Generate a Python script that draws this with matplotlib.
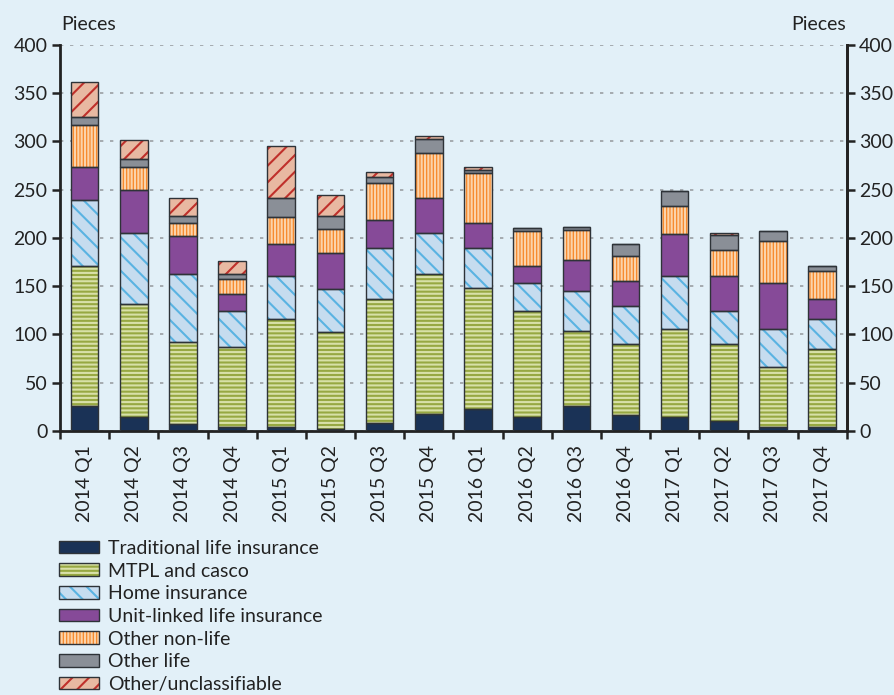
import matplotlib
matplotlib.use("Agg")
import matplotlib.pyplot as plt
from matplotlib.patches import Patch
from matplotlib.ticker import MultipleLocator, FixedLocator
from matplotlib.legend_handler import HandlerTuple
import numpy as np

plt.rcParams['font.family'] = ['Lato', 'DejaVu Sans']
plt.rcParams['hatch.linewidth'] = 1.5

categories = ["2014 Q1", "2014 Q2", "2014 Q3", "2014 Q4",
              "2015 Q1", "2015 Q2", "2015 Q3", "2015 Q4",
              "2016 Q1", "2016 Q2", "2016 Q3", "2016 Q4",
              "2017 Q1", "2017 Q2", "2017 Q3", "2017 Q4"]

traditional_life = [26, 15, 7, 4, 4, 2, 8, 18, 23, 15, 26, 17, 15, 10, 4, 4]
mtpl_casco       = [145, 117, 85, 83, 112, 101, 129, 145, 125, 109, 78, 73, 91, 80, 62, 81]
home_insurance   = [68, 73, 71, 37, 44, 44, 52, 42, 41, 29, 41, 39, 54, 34, 40, 31]
unit_linked      = [34, 45, 39, 18, 34, 37, 29, 36, 26, 18, 32, 26, 44, 36, 47, 21]
other_non_life   = [44, 23, 13, 15, 28, 25, 39, 47, 52, 36, 31, 26, 29, 27, 44, 29]
other_life       = [8, 9, 8, 6, 19, 14, 6, 14, 3, 3, 3, 13, 16, 16, 10, 5]
other_unclass    = [36, 19, 18, 13, 54, 21, 5, 3, 3, 0, 0, 0, 0, 2, 0, 0]

series_labels = ["Traditional life insurance", "MTPL and casco", "Home insurance",
                 "Unit-linked life insurance", "Other non-life", "Other life",
                 "Other/unclassifiable"]
series_values = [traditional_life, mtpl_casco, home_insurance, unit_linked,
                 other_non_life, other_life, other_unclass]

# styles: facecolor, hatch, hatch colour
styles = [
    ("#1A3256", None, "#1A3256"),
    ("#97A842", "----", "#D8E0A8"),
    ("#C6DCEF", "\\\\", "#5AB3E2"),
    ("#864A98", None, "#864A98"),
    ("#F7882A", "|||||", "#FBD3AA"),
    ("#8A8F97", None, "#8A8F97"),
    ("#E8B9A2", "//", "#C0302B"),
]

bg = "#E2F0F8"
outline = "#2E3338"
txt = "#222222"
fs = 14

fig = plt.figure(figsize=(8.95, 6.95), dpi=100, facecolor=bg)
ax = fig.add_axes([60/895, 1-431/695, (846.7-60)/895, (431-44.7)/695])
ax.set_facecolor(bg)

x = np.arange(len(categories))
width = 0.56
bottom = np.zeros(len(categories))
handles = []
for vals, (fc, hatch, hc), lab in zip(series_values, styles, series_labels):
    v = np.array(vals, dtype=float)
    ax.bar(x, v, width, bottom=bottom, color=fc, hatch=hatch, edgecolor=hc,
           linewidth=0, zorder=2)
    ax.bar(x, v, width, bottom=bottom, fill=False, edgecolor=outline,
           linewidth=1.0, zorder=3)
    bottom += v
    h1 = Patch(facecolor=fc, hatch=hatch, edgecolor=hc, linewidth=0)
    h2 = Patch(fill=False, edgecolor=outline, linewidth=1.0)
    handles.append((h1, h2))

ax.set_xlim(-0.5, len(categories) - 0.5)
ax.set_ylim(0, 400)
ax.yaxis.set_major_locator(MultipleLocator(50))
ax.grid(axis='y', color="#9A9FA3", linestyle=(0, (2, 4)), linewidth=1.2, zorder=0)
ax.set_axisbelow(True)

ax.set_xticks(x)
ax.set_xticklabels(categories, rotation=90, fontsize=fs, color=txt)
ax.tick_params(axis='x', which='major', length=0, pad=10)
ax.xaxis.set_minor_locator(FixedLocator(np.arange(-0.5, len(categories), 1.0)))
ax.tick_params(axis='x', which='minor', length=6, width=1.8, color=txt, direction='out')
ax.tick_params(axis='y', labelsize=fs, length=6, width=1.8, color=txt,
               labelcolor=txt, direction='out', pad=3)

ax.spines['top'].set_visible(False)
for side in ['left', 'right', 'bottom']:
    ax.spines[side].set_linewidth(2.0)
    ax.spines[side].set_color(txt)

ax2 = ax.twinx()
ax2.set_ylim(0, 400)
ax2.yaxis.set_major_locator(MultipleLocator(50))
ax2.tick_params(axis='y', labelsize=fs, length=6, width=1.8, color=txt,
                labelcolor=txt, direction='out', pad=3)
for side in ['top', 'left', 'bottom']:
    ax2.spines[side].set_visible(False)
ax2.spines['right'].set_linewidth(2.0)
ax2.spines['right'].set_color(txt)

fig.text(61/895, 1-25/695, "Pieces", fontsize=fs, color=txt, ha='left', va='center')
fig.text(846/895, 1-25/695, "Pieces", fontsize=fs, color=txt, ha='right', va='center')

leg = fig.legend(handles, series_labels, loc='upper left',
                 bbox_to_anchor=(59/895, 1-540/695), frameon=False,
                 fontsize=fs, handlelength=2.06, handleheight=0.62,
                 labelspacing=0.29, handletextpad=0.45, borderpad=0,
                 borderaxespad=0,
                 handler_map={tuple: HandlerTuple(ndivide=1)})
for t in leg.get_texts():
    t.set_color(txt)

fig.savefig("out.png", dpi=100, facecolor=bg)
